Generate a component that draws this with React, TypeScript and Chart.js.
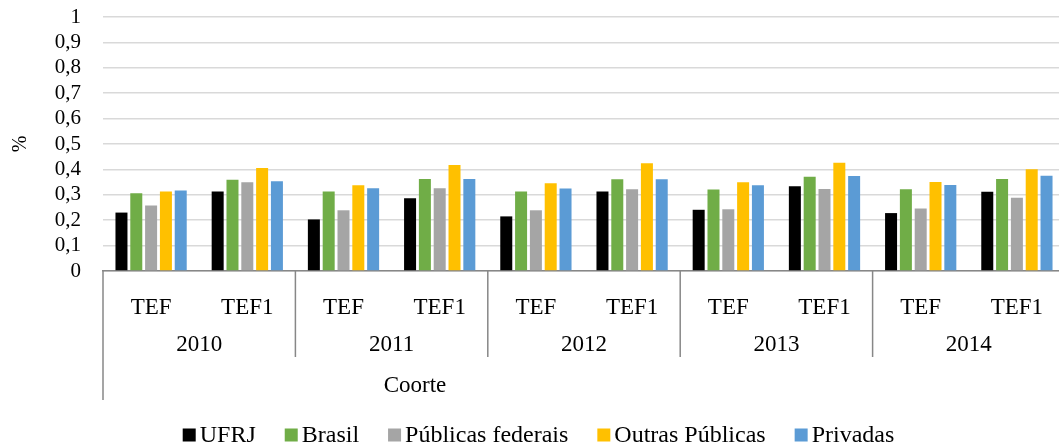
import React, { useEffect, useRef } from 'react';
import { Chart, registerables } from 'chart.js';

Chart.register(...registerables);

const categories = ['TEF', 'TEF1', 'TEF', 'TEF1', 'TEF', 'TEF1', 'TEF', 'TEF1', 'TEF', 'TEF1'];
const cohorts = ['2010', '2011', '2012', '2013', '2014'];
const outerAxisLabel = 'Coorte';
const yAxisLabel = '%';
const yTickLabels = ['0', '0,1', '0,2', '0,3', '0,4', '0,5', '0,6', '0,7', '0,8', '0,9', '1'];
const seriesNames = ['UFRJ', 'Brasil', 'Públicas federais', 'Outras Públicas', 'Privadas'];

const ufrj = [0.23, 0.313, 0.203, 0.286, 0.215, 0.313, 0.241, 0.334, 0.228, 0.312];
const brasil = [0.306, 0.359, 0.313, 0.362, 0.313, 0.361, 0.321, 0.371, 0.322, 0.362];
const publicasFederais = [0.258, 0.349, 0.239, 0.326, 0.239, 0.322, 0.243, 0.323, 0.246, 0.288];
const outrasPublicas = [0.313, 0.406, 0.338, 0.417, 0.345, 0.424, 0.349, 0.426, 0.35, 0.401];
const privadas = [0.317, 0.353, 0.326, 0.362, 0.325, 0.361, 0.338, 0.374, 0.339, 0.375];

const seriesColors = ['#000000', '#70AD47', '#A5A5A5', '#FFC000', '#5B9BD5'];

const FONT = '"Liberation Serif", "Times New Roman", serif';

const multiLevelPlugin = {
  id: 'multiLevelAxisAndLegend',
  afterDraw(chart: any) {
    const ctx = chart.ctx;
    const xs = chart.scales.x;
    const area = chart.chartArea;
    ctx.save();
    ctx.strokeStyle = '#878787';
    ctx.lineWidth = 1.5;
    ctx.beginPath();
    ctx.moveTo(area.left, area.bottom);
    ctx.lineTo(area.left, 400);
    ctx.stroke();
    for (let g = 1; g < cohorts.length; g++) {
      const bx = (xs.getPixelForValue(2 * g - 1) + xs.getPixelForValue(2 * g)) / 2;
      ctx.beginPath();
      ctx.moveTo(bx, area.bottom);
      ctx.lineTo(bx, 357);
      ctx.stroke();
    }
    ctx.fillStyle = '#000';
    ctx.font = `23px ${FONT}`;
    ctx.textAlign = 'center';
    ctx.textBaseline = 'middle';
    cohorts.forEach((c, g) => {
      const cx = (xs.getPixelForValue(2 * g) + xs.getPixelForValue(2 * g + 1)) / 2;
      ctx.fillText(c, cx, 345);
    });
    ctx.fillText(outerAxisLabel, 415, 386);

    ctx.font = `24px ${FONT}`;
    const box = 13;
    const gap = 4;
    const spacing = 29;
    const widths = seriesNames.map((n) => ctx.measureText(n).width);
    const total = widths.reduce((a, b) => a + b, 0) + seriesNames.length * (box + gap) + (seriesNames.length - 1) * spacing;
    let lx = 538.5 - total / 2;
    const ly = 435;
    ctx.textAlign = 'left';
    seriesNames.forEach((n, i) => {
      ctx.fillStyle = seriesColors[i];
      ctx.fillRect(lx, ly - box / 2, box, box);
      ctx.fillStyle = '#000';
      ctx.fillText(n, lx + box + gap, ly + 1);
      lx += box + gap + widths[i] + spacing;
    });
    ctx.restore();
  },
};

export default function App() {
  const ref = useRef<HTMLCanvasElement | null>(null);

  useEffect(() => {
    if (!ref.current) return;
    const seriesValues = [ufrj, brasil, publicasFederais, outrasPublicas, privadas];
    const chart = new Chart(ref.current, {
      type: 'bar',
      data: {
        labels: categories,
        datasets: seriesNames.map((name, i) => ({
          label: name,
          data: seriesValues[i],
          backgroundColor: seriesColors[i],
          borderWidth: 0,
          categoryPercentage: 0.77,
          barPercentage: 0.81,
        })),
      },
      options: {
        responsive: false,
        animation: false,
        devicePixelRatio: 1,
        layout: { padding: { top: 17, right: 2, bottom: 0, left: 0 } },
        plugins: {
          legend: { display: false },
          tooltip: { enabled: false },
        },
        scales: {
          x: {
            grid: { display: false },
            border: { display: true, color: '#878787', width: 1.5 },
            ticks: {
              color: '#000',
              font: { family: FONT, size: 23 },
              padding: 15,
              autoSkip: false,
              maxRotation: 0,
              minRotation: 0,
            },
            afterFit: (s: any) => {
              s.height = 177;
              s.paddingTop = 0;
              s.paddingBottom = 0;
            },
          },
          y: {
            min: 0,
            max: 1,
            grid: { color: '#d9d9d9', lineWidth: 1.5, drawTicks: false },
            border: { display: false },
            ticks: {
              stepSize: 0.1,
              autoSkip: false,
              color: '#000',
              padding: 22,
              font: { family: FONT, size: 21, lineHeight: 1 },
              callback: (_v: any, i: number) => yTickLabels[i],
            },
            title: {
              display: true,
              text: yAxisLabel,
              color: '#000',
              font: { family: FONT, size: 20 },
              padding: { top: 9, bottom: 0 },
            },
            afterFit: (s: any) => {
              s.width = 103;
              s.paddingTop = 0;
              s.paddingBottom = 0;
            },
          },
        },
      },
      plugins: [multiLevelPlugin],
    });
    return () => chart.destroy();
  }, []);

  return (
    <div
      style={{
        position: 'absolute',
        left: 0,
        top: 0,
        width: 1059,
        height: 448,
        overflow: 'hidden',
        background: '#fff',
      }}
    >
      <canvas ref={ref} width={1067} height={448} style={{ display: 'block' }} />
    </div>
  );
}
